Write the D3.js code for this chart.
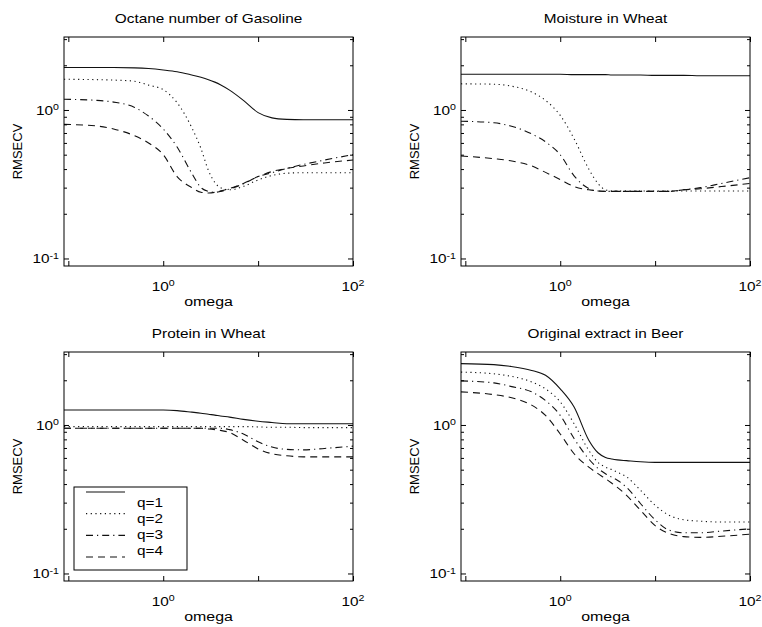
<!DOCTYPE html>
<html>
<head>
<meta charset="utf-8">
<script src="https://cdn.jsdelivr.net/npm/d3@7"></script>
<style>
  body { margin: 0; background: #fff; }
  svg { display: block; font-family: "Liberation Sans", Arial, sans-serif; }
</style>
</head>
<body>
<div id="chart"></div>
<script>
// omega grid shared by every curve
const omega = [0.09, 0.2, 0.3, 0.5, 0.7, 1, 1.4, 2, 2.5, 3, 3.5, 4, 5, 7, 10, 14, 20, 30, 50, 100];

const titles = ["Octane number of Gasoline", "Moisture in Wheat", "Protein in Wheat", "Original extract in Beer"];
const qLabels = ["q=1", "q=2", "q=3", "q=4"];

// RMSECV, one array per q
const gasoline = [
  [1.93, 1.93, 1.93, 1.92, 1.90, 1.86, 1.81, 1.72, 1.66, 1.60, 1.54, 1.48, 1.36, 1.16, 0.96, 0.885, 0.865, 0.86, 0.86, 0.86],
  [1.61, 1.60, 1.59, 1.56, 1.47, 1.37, 1.12, 0.76, 0.55, 0.39, 0.325, 0.30, 0.29, 0.306, 0.338, 0.362, 0.375, 0.378, 0.378, 0.378],
  [1.18, 1.16, 1.13, 1.04, 0.91, 0.745, 0.563, 0.375, 0.30, 0.283, 0.279, 0.283, 0.294, 0.318, 0.356, 0.378, 0.404, 0.43, 0.46, 0.50],
  [0.80, 0.78, 0.745, 0.67, 0.60, 0.50, 0.356, 0.30, 0.279, 0.276, 0.279, 0.285, 0.296, 0.32, 0.356, 0.385, 0.404, 0.42, 0.44, 0.46]
];
const moisture = [
  [1.74, 1.74, 1.74, 1.74, 1.74, 1.74, 1.73, 1.73, 1.73, 1.73, 1.72, 1.72, 1.72, 1.72, 1.71, 1.71, 1.71, 1.70, 1.70, 1.70],
  [1.50, 1.49, 1.45, 1.32, 1.16, 0.92, 0.64, 0.40, 0.32, 0.29, 0.285, 0.285, 0.285, 0.285, 0.285, 0.285, 0.285, 0.285, 0.285, 0.285],
  [0.84, 0.82, 0.78, 0.69, 0.61, 0.50, 0.36, 0.296, 0.285, 0.283, 0.283, 0.283, 0.283, 0.283, 0.283, 0.283, 0.29, 0.30, 0.32, 0.35],
  [0.49, 0.47, 0.455, 0.42, 0.38, 0.34, 0.305, 0.29, 0.285, 0.283, 0.283, 0.283, 0.283, 0.283, 0.283, 0.283, 0.29, 0.295, 0.305, 0.32]
];
const protein = [
  [1.26, 1.26, 1.26, 1.26, 1.26, 1.26, 1.25, 1.22, 1.20, 1.18, 1.165, 1.15, 1.13, 1.09, 1.06, 1.04, 1.02, 1.02, 1.02, 1.02],
  [0.975, 0.975, 0.975, 0.975, 0.975, 0.975, 0.975, 0.975, 0.975, 0.975, 0.975, 0.975, 0.975, 0.975, 0.97, 0.965, 0.965, 0.96, 0.96, 0.96],
  [0.95, 0.95, 0.95, 0.95, 0.95, 0.95, 0.95, 0.95, 0.95, 0.95, 0.95, 0.95, 0.93, 0.87, 0.77, 0.71, 0.685, 0.68, 0.695, 0.72],
  [0.95, 0.95, 0.95, 0.95, 0.95, 0.95, 0.95, 0.95, 0.95, 0.94, 0.93, 0.92, 0.89, 0.79, 0.69, 0.64, 0.62, 0.61, 0.61, 0.61]
];
const beer = [
  [2.59, 2.55, 2.48, 2.33, 2.16, 1.75, 1.32, 0.79, 0.65, 0.605, 0.59, 0.582, 0.575, 0.565, 0.56, 0.56, 0.56, 0.56, 0.56, 0.56],
  [2.27, 2.21, 2.13, 1.95, 1.75, 1.43, 1.02, 0.675, 0.56, 0.52, 0.50, 0.48, 0.447, 0.364, 0.288, 0.247, 0.23, 0.225, 0.222, 0.222],
  [1.98, 1.92, 1.82, 1.67, 1.46, 1.16, 0.81, 0.59, 0.51, 0.47, 0.445, 0.425, 0.38, 0.296, 0.23, 0.196, 0.188, 0.188, 0.193, 0.20],
  [1.67, 1.60, 1.53, 1.36, 1.16, 0.87, 0.64, 0.52, 0.47, 0.435, 0.405, 0.38, 0.336, 0.267, 0.21, 0.186, 0.177, 0.175, 0.178, 0.184]
];

const panelsData = [gasoline, moisture, protein, beer];

// line styles for q=1..4 (solid, dotted, dash-dot, dashed)
const dashes = [null, "1.2,3.5", "7,4,1.2,4", "7,5"];

const width = 762, height = 627;
const pw = 289, ph = 229;
const origins = [[64, 37], [461, 37], [64, 352], [461, 352]];
const sx = 1.18; // the scan is stretched sideways, so is the horizontal text

const x = d3.scaleLog().domain([0.09, 100]).range([0, pw]);
const y = d3.scaleLog().domain([0.089, 3.1]).range([ph, 0]);

const yMinor = [];
[0.1, 1].forEach(base => d3.range(2, 10).forEach(k => {
  const v = k * base;
  if (v <= 3.1) yMinor.push(v);
}));

const svg = d3.select("#chart").append("svg")
  .attr("width", width)
  .attr("height", height);

const line = d3.line()
  .x((d, i) => x(omega[i]))
  .y(d => y(d))
  .curve(d3.curveMonotoneX);

function supLabel(sel, exp) {
  sel.append("tspan").text("10");
  sel.append("tspan").attr("dy", "-0.55em").attr("font-size", "9px").text(exp);
}

panelsData.forEach((series, p) => {
  const [ox, oy] = origins[p];
  const g = svg.append("g").attr("transform", `translate(${ox},${oy})`);

  // curves
  g.append("g")
    .selectAll("path")
    .data(series)
    .join("path")
    .attr("fill", "none")
    .attr("stroke", "#111")
    .attr("stroke-width", 1.1)
    .attr("stroke-dasharray", (d, i) => dashes[i])
    .attr("d", line);

  // inward ticks on all four sides
  const axStyle = a => a.call(s => s.select(".domain").remove())
    .call(s => s.selectAll("line").attr("stroke", "#000"));
  g.append("g").attr("transform", `translate(0,${ph})`)
    .call(d3.axisBottom(x).tickValues([0.1, 1, 10, 100]).tickSize(-5).tickFormat(""))
    .call(axStyle);
  g.append("g")
    .call(d3.axisTop(x).tickValues([0.1, 1, 10, 100]).tickSize(-5).tickFormat(""))
    .call(axStyle);
  g.append("g")
    .call(d3.axisLeft(y).tickValues([0.1, 1]).tickSize(-5).tickFormat(""))
    .call(axStyle);
  g.append("g")
    .call(d3.axisLeft(y).tickValues(yMinor).tickSize(-3).tickFormat(""))
    .call(axStyle);
  g.append("g").attr("transform", `translate(${pw},0)`)
    .call(d3.axisRight(y).tickValues([0.1, 1]).tickSize(-5).tickFormat(""))
    .call(axStyle);
  g.append("g").attr("transform", `translate(${pw},0)`)
    .call(d3.axisRight(y).tickValues(yMinor).tickSize(-3).tickFormat(""))
    .call(axStyle);

  // frame
  g.append("rect")
    .attr("width", pw).attr("height", ph)
    .attr("fill", "none").attr("stroke", "#000").attr("stroke-width", 1);

  // tick labels
  g.append("g").selectAll("text")
    .data([[1, "0"], [100, "2"]])
    .join("text")
    .attr("transform", d => `translate(${x(d[0])},${ph + 25}) scale(${sx},1)`)
    .attr("text-anchor", "middle")
    .attr("font-size", 13)
    .each(function(d) { supLabel(d3.select(this), d[1]); });
  g.append("g").selectAll("text")
    .data([[1, "0"], [0.1, "-1"]])
    .join("text")
    .attr("transform", d => `translate(-5,${y(d[0]) + 5}) scale(${sx},1)`)
    .attr("text-anchor", "end")
    .attr("font-size", 13)
    .each(function(d) { supLabel(d3.select(this), d[1]); });

  // titles and axis labels
  g.append("text")
    .attr("transform", `translate(${pw / 2},-14) scale(${sx},1)`)
    .attr("text-anchor", "middle")
    .attr("font-size", 13)
    .text(titles[p]);
  g.append("text")
    .attr("transform", `translate(${pw / 2},${ph + 40}) scale(${sx},1)`)
    .attr("text-anchor", "middle")
    .attr("font-size", 13.5)
    .text("omega");
  g.append("text")
    .attr("transform", `translate(-42,${ph / 2}) rotate(-90)`)
    .attr("text-anchor", "middle")
    .attr("font-size", 13)
    .text("RMSECV");

  // legend lives in the protein panel
  if (p === 2) {
    const lg = g.append("g").attr("transform", "translate(10,135)");
    lg.append("rect")
      .attr("width", 113).attr("height", 83)
      .attr("fill", "#fff").attr("stroke", "#000");
    // sample lines and their labels sit at slightly different heights in the reference
    const lineY = d3.scalePoint().domain(qLabels).range([5, 70]);
    const textY = d3.scalePoint().domain(qLabels).range([20, 68]);
    lg.selectAll("line")
      .data(qLabels)
      .join("line")
      .attr("x1", 12).attr("x2", 51)
      .attr("y1", d => lineY(d)).attr("y2", d => lineY(d))
      .attr("stroke", "#111").attr("stroke-width", 1.1)
      .attr("stroke-dasharray", (d, i) => dashes[i]);
    lg.selectAll("text")
      .data(qLabels)
      .join("text")
      .attr("transform", d => `translate(63,${textY(d)}) scale(${sx},1)`)
      .attr("font-size", 13)
      .text(d => d);
  }
});
</script>
</body>
</html>
